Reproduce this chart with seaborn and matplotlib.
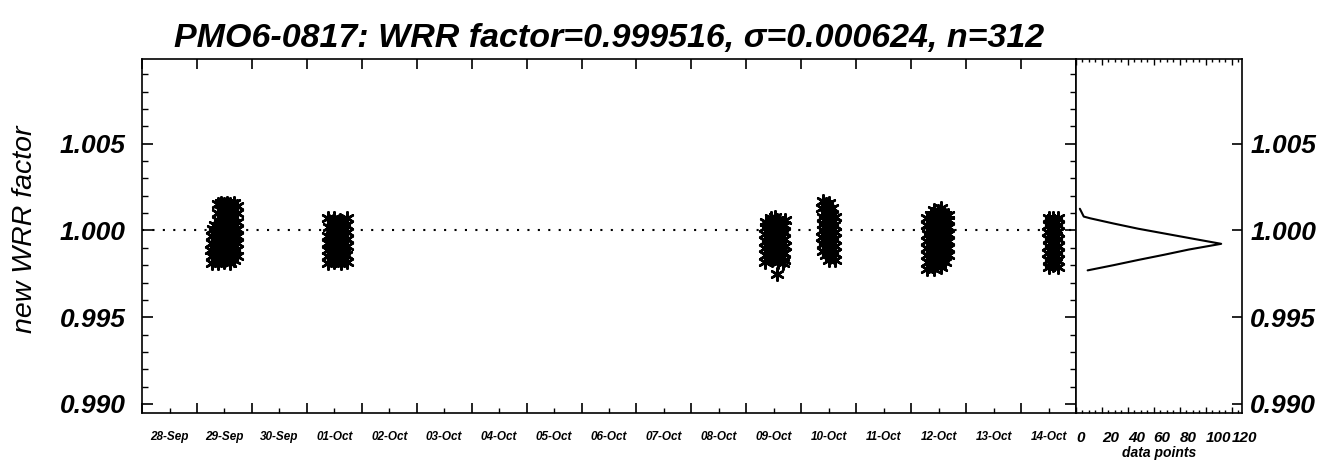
import pandas as pd
import numpy as np
import matplotlib as mpl
mpl.use('Agg')
import matplotlib.pyplot as plt
import matplotlib.dates as mdates
from matplotlib import ticker
import seaborn as sns

# WRR factor measurements, one cluster per measuring day (hour of day, value)
A_day = '2010-09-29'
A_hours = [6.4, 6.7, 6.3, 6.6, 6.5, 6.8,
           7.8, 7.9, 7.7, 7.8, 8.0, 7.9,
           9.1, 9.4, 9.0, 9.3, 9.2, 9.5, 9.1, 9.3, 9.2,
           10.5, 10.6, 10.4, 10.5, 10.7, 10.4, 10.6, 10.5, 10.6,
           11.9, 11.7, 12.1, 11.8, 12.0, 11.9, 12.2, 11.8, 12.0,
           13.2, 13.3, 13.1, 13.2, 13.4, 13.1, 13.3, 13.2, 13.3,
           14.6, 14.4, 14.8, 14.5, 14.7, 14.6, 14.3, 14.8, 14.5,
           16.0, 16.1, 15.9, 16.0, 16.2, 15.9, 16.1, 16.0, 16.1,
           17.4, 17.2, 17.5, 17.3, 17.4, 17.6, 17.3, 17.5]
A_vals = [0.9981, 0.9985, 0.9989, 0.9993, 0.9997, 1.0001,
          0.9983, 0.9987, 0.9991, 0.9995, 0.9999, 1.0003,
          0.9981, 0.9985, 0.9989, 0.9993, 0.9997, 1.0001, 1.0006, 1.0010, 1.0015,
          0.9983, 0.9987, 0.9991, 0.9995, 0.9999, 1.0003, 1.0008, 1.0012, 1.0016,
          0.9982, 0.9986, 0.9990, 0.9994, 0.9998, 1.0002, 1.0006, 1.0011, 1.0015,
          0.9984, 0.9988, 0.9992, 0.9996, 1.0000, 1.0004, 1.0008, 1.0013, 1.0016,
          0.9981, 0.9985, 0.9990, 0.9994, 0.9998, 1.0002, 1.0007, 1.0011, 1.0015,
          0.9983, 0.9987, 0.9991, 0.9996, 1.0000, 1.0004, 1.0008, 1.0012, 1.0016,
          0.9985, 0.9989, 0.9993, 0.9997, 1.0001, 1.0005, 1.0010, 1.0014]

B_day = '2010-10-01'
B_hours = [9.2, 9.4, 9.1, 9.3, 9.2, 9.5, 9.3,
           10.6, 10.7, 10.5, 10.6, 10.8, 10.5,
           12.0, 11.8, 12.2, 11.9, 12.1, 12.0, 11.8,
           13.4, 13.5, 13.3, 13.4, 13.6, 13.3,
           14.8, 14.6, 15.0, 14.7, 14.9, 14.8, 14.6,
           16.1, 16.2, 16.0, 16.1, 16.3, 16.0,
           17.5, 17.3, 17.6, 17.4, 17.5, 17.3, 17.6]
B_vals = [0.9981, 0.9985, 0.9989, 0.9993, 0.9997, 1.0002, 1.0007,
          0.9983, 0.9987, 0.9992, 0.9996, 1.0001, 1.0005,
          0.9982, 0.9986, 0.9990, 0.9994, 0.9999, 1.0003, 1.0007,
          0.9983, 0.9988, 0.9992, 0.9996, 1.0000, 1.0005,
          0.9981, 0.9985, 0.9990, 0.9994, 0.9998, 1.0003, 1.0006,
          0.9983, 0.9987, 0.9992, 0.9997, 1.0001, 1.0005,
          0.9982, 0.9986, 0.9991, 0.9995, 0.9999, 1.0003, 1.0007]

C_day = '2010-10-09'
C_hours = [8.3, 8.5, 8.2, 8.4, 8.3, 8.6, 8.4,
           9.7, 9.8, 9.6, 9.7, 9.9, 9.6,
           11.0, 10.8, 11.2, 10.9, 11.1, 11.0, 10.8,
           12.4, 12.5, 12.3, 12.4, 12.6, 12.3, 12.5,
           13.8, 13.6, 14.0, 13.7, 13.9, 13.8, 13.6, 13.5,
           15.2, 15.3, 15.1, 15.2, 15.4, 15.1,
           16.6, 16.4, 16.7, 16.5, 16.6, 16.4, 16.7, 16.0]
C_vals = [0.9982, 0.9986, 0.9990, 0.9994, 0.9998, 1.0002, 1.0005,
          0.9984, 0.9988, 0.9992, 0.9996, 1.0000, 1.0004,
          0.9983, 0.9987, 0.9991, 0.9995, 0.9999, 1.0003, 1.0007,
          0.9984, 0.9988, 0.9992, 0.9996, 1.0000, 1.0004, 1.0008,
          0.9982, 0.9986, 0.9990, 0.9994, 0.9998, 1.0002, 1.0006, 0.9975,
          0.9984, 0.9988, 0.9992, 0.9996, 1.0000, 1.0004,
          0.9983, 0.9987, 0.9991, 0.9995, 0.9999, 1.0003, 1.0006, 0.9981]

D_day = '2010-10-10'
D_hours = [9.3, 9.5, 9.2, 9.4, 9.3, 9.5, 9.2, 9.4,
           10.6, 10.7, 10.5, 10.6, 10.8, 10.5, 10.7, 10.6,
           12.0, 11.8, 12.2, 11.9, 12.1, 12.0, 11.8, 12.1, 11.9,
           13.3, 13.4, 13.2, 13.3, 13.5, 13.2, 13.4, 13.3,
           14.6, 14.4, 14.7, 14.5, 14.6, 14.4, 14.7]
D_vals = [0.9988, 0.9992, 0.9996, 1.0000, 1.0004, 1.0008, 1.0013, 1.0017,
          0.9986, 0.9990, 0.9994, 0.9998, 1.0002, 1.0006, 1.0010, 1.0015,
          0.9983, 0.9987, 0.9991, 0.9995, 0.9999, 1.0003, 1.0007, 1.0011, 1.0016,
          0.9985, 0.9989, 0.9993, 0.9997, 1.0001, 1.0005, 1.0009, 1.0013,
          0.9983, 0.9987, 0.9991, 0.9995, 0.9999, 1.0003, 1.0008]

E_day = '2010-10-12'
E_hours = [7.0, 7.2, 6.9, 7.1, 7.0, 7.3, 6.9, 7.1,
           8.5, 8.6, 8.4, 8.5, 8.7, 8.4, 8.6, 8.5,
           10.0, 9.8, 10.2, 9.9, 10.1, 10.0, 9.8, 10.2, 9.9, 10.1,
           11.5, 11.6, 11.4, 11.5, 11.7, 11.4, 11.6, 11.5, 11.6,
           13.0, 12.8, 13.2, 12.9, 13.1, 13.0, 12.8, 13.2, 12.9, 13.1,
           14.6, 14.7, 14.5, 14.6, 14.8, 14.5, 14.7, 14.6,
           16.1, 15.9, 16.2, 16.0, 16.1, 15.9, 16.2]
E_vals = [0.9978, 0.9982, 0.9986, 0.9990, 0.9994, 0.9998, 1.0003, 1.0007,
          0.9980, 0.9984, 0.9988, 0.9992, 0.9996, 1.0000, 1.0005, 1.0009,
          0.9978, 0.9982, 0.9986, 0.9990, 0.9994, 0.9998, 1.0002, 1.0006, 1.0009, 1.0012,
          0.9980, 0.9984, 0.9988, 0.9992, 0.9996, 1.0000, 1.0004, 1.0008, 1.0011,
          0.9979, 0.9983, 0.9987, 0.9991, 0.9995, 0.9999, 1.0003, 1.0007, 1.0010, 1.0013,
          0.9982, 0.9986, 0.9990, 0.9994, 0.9998, 1.0002, 1.0006, 1.0009,
          0.9986, 0.9990, 0.9994, 0.9998, 1.0002, 1.0006, 1.0009]

F_day = '2010-10-14'
F_hours = [12.0, 12.2, 11.9, 12.1, 12.0, 11.8, 12.1, 12.0,
           13.0, 13.1, 12.9, 13.0, 13.2, 12.9, 13.1,
           14.0, 13.8, 14.2, 13.9, 14.1, 14.0, 13.8, 14.1,
           15.0, 15.1, 14.9, 15.0, 15.2, 14.9, 15.1,
           16.1, 15.9, 16.2, 16.0, 16.1, 15.9, 16.2, 16.0]
F_vals = [0.9979, 0.9983, 0.9987, 0.9991, 0.9995, 0.9999, 1.0003, 1.0007,
          0.9981, 0.9985, 0.9989, 0.9993, 0.9997, 1.0001, 1.0005,
          0.9980, 0.9984, 0.9988, 0.9992, 0.9996, 1.0000, 1.0004, 1.0007,
          0.9981, 0.9985, 0.9989, 0.9993, 0.9997, 1.0001, 1.0005,
          0.9979, 0.9983, 0.9987, 0.9991, 0.9995, 0.9999, 1.0003, 1.0007]

# histogram of the factors (bin value, number of data points)
hist_vals = [0.9977, 0.9980, 0.9983, 0.9986, 0.9989, 0.99923, 0.9995,
             0.9998, 1.0001, 1.0004, 1.0007, 1.0008, 1.00125]
hist_counts = [9, 29, 48, 68, 87, 112, 92, 70, 48, 29, 11, 6, 3]
hist_ticks = [0, 20, 40, 60, 80, 100, 120]

title = "PMO6-0817: WRR factor=0.999516, \u03c3=0.000624, n=312"


def make_cluster(day, hours, vals):
    t = pd.Timestamp(day) + pd.to_timedelta(hours, unit='h')
    return pd.DataFrame({'date': t, 'wrr': vals})


clusters = [(A_day, A_hours, A_vals), (B_day, B_hours, B_vals), (C_day, C_hours, C_vals),
            (D_day, D_hours, D_vals), (E_day, E_hours, E_vals), (F_day, F_hours, F_vals)]
df = pd.concat([make_cluster(*c) for c in clusters], ignore_index=True)

sns.set_theme(style='ticks')
plt.rcParams['font.family'] = ['Liberation Sans', 'DejaVu Sans']
plt.rcParams['axes.edgecolor'] = 'black'
plt.rcParams['axes.linewidth'] = 1.2
plt.rcParams['xtick.color'] = 'black'
plt.rcParams['ytick.color'] = 'black'
plt.rcParams['text.color'] = 'black'
plt.rcParams['axes.labelcolor'] = 'black'

fig = plt.figure(figsize=(13.3, 4.65), dpi=100)
ax = fig.add_axes([0.1068, 0.1118, 0.7022, 0.7613])
axh = fig.add_axes([0.809, 0.1118, 0.1248, 0.7613], sharey=ax)

# scatter of the factors
ax.axhline(1.0, color='black', linestyle=(0, (1, 4)), linewidth=1.5, zorder=1)
sns.scatterplot(data=df, x='date', y='wrr', marker=(6, 2, 0), color='black',
                s=80, linewidth=1.8, legend=False, ax=ax, zorder=2)

ax.set_xlim(pd.Timestamp('2010-09-28'), pd.Timestamp('2010-10-15'))
ax.set_ylim(0.98948, 1.00988)
ax.xaxis.set_major_locator(mdates.DayLocator())
ax.xaxis.set_major_formatter(ticker.NullFormatter())
ax.xaxis.set_minor_locator(mdates.HourLocator(byhour=12))
ax.xaxis.set_minor_formatter(mdates.DateFormatter('%d-%b'))
ax.yaxis.set_major_locator(ticker.MultipleLocator(0.005))
ax.yaxis.set_minor_locator(ticker.MultipleLocator(0.001))
ax.yaxis.set_major_formatter(ticker.FormatStrFormatter('%.3f'))

ax.tick_params(axis='x', which='major', direction='in', length=7, width=1.2, top=True, bottom=True)
ax.tick_params(axis='x', which='minor', direction='in', length=3.5, width=1, top=False,
               labelsize=8.5, pad=13)
ax.tick_params(axis='y', which='major', direction='in', length=8, width=1.2, right=True,
               labelsize=19, pad=12)
ax.tick_params(axis='y', which='minor', direction='in', length=4, width=1, right=True)
for lab in ax.get_xticklabels(minor=True) + ax.get_yticklabels():
    lab.set_fontweight('bold')
    lab.set_fontstyle('italic')

ax.set_xlabel('')
ax.set_ylabel('new WRR factor', fontsize=20.5, fontstyle='italic')
ax.yaxis.set_label_coords(-0.111, 0.52)
ax.set_title(title, fontsize=24.5, fontweight='bold', fontstyle='italic', pad=9,
             family=['Liberation Sans Narrow', 'Liberation Sans'])

# histogram panel
sns.lineplot(x=hist_counts, y=hist_vals, sort=False, estimator=None, color='black',
             linewidth=1.5, ax=axh)
axh.set_xlim(0, 128)
axh.xaxis.set_major_locator(ticker.FixedLocator(hist_ticks))
axh.xaxis.set_minor_locator(ticker.MultipleLocator(5))
axh.tick_params(axis='x', which='major', direction='in', length=4, width=1, top=True,
                labelsize=11, pad=13)
axh.tick_params(axis='x', which='minor', direction='in', length=2.5, width=1, top=True)
axh.tick_params(axis='y', which='major', direction='in', length=7, width=1.2, left=False,
                labelleft=False, right=True, labelright=True, labelsize=19, pad=6)
axh.tick_params(axis='y', which='minor', left=False, right=False)
for lab in axh.get_xticklabels():
    lab.set_horizontalalignment('left')
for lab in axh.get_xticklabels() + axh.get_yticklabels():
    lab.set_fontweight('bold')
    lab.set_fontstyle('italic')
axh.set_xlabel('data points', fontsize=10, fontweight='bold', fontstyle='italic', labelpad=1)
axh.set_ylabel('')

fig.savefig('out.png', dpi=100, facecolor='white')
